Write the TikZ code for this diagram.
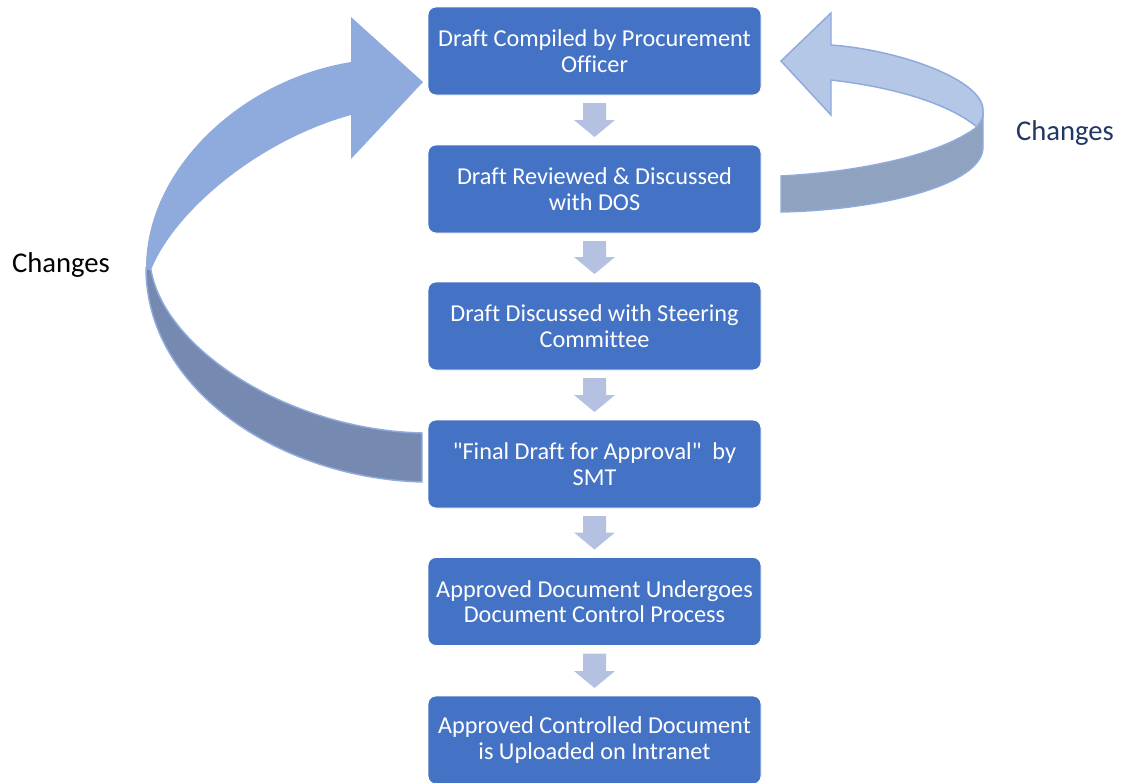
\documentclass[tikz,border=0pt]{standalone}
\usepackage{fontspec}
\setmainfont{Carlito}[Ligatures=CommonOff]
\usetikzlibrary{calc}
\definecolor{boxblue}{HTML}{4472C4}
\definecolor{smallarrow}{HTML}{B4C1E1}
\definecolor{leftfront}{HTML}{8FAADC}
\definecolor{leftback}{HTML}{7689B0}
\definecolor{rightfront}{HTML}{B4C7E7}
\definecolor{rightback}{HTML}{8FA2BF}
\definecolor{navytext}{HTML}{1F3864}
\newcommand\blockconn[2]{%
  \fill[smallarrow] ($(#1.south)+(-11.5,8)$) -- ($(#1.south)+(11.5,8)$)
    -- ($(#2.north)+(11.5,-25)$) -- ($(#2.north)+(20.5,-25)$)
    -- ($(#2.north)+(0,-8)$) -- ($(#2.north)+(-20.5,-25)$)
    -- ($(#2.north)+(-11.5,-25)$) -- cycle;}
\begin{document}
\begin{tikzpicture}[x=0.75pt,y=-0.75pt,
  stepbox/.style={draw=white, line width=0.6pt, fill=boxblue, rounded corners=6pt,
    minimum width=249.75pt, minimum height=66pt, text=white, align=center,
    font=\fontsize{18.2}{19}\selectfont, inner sep=0pt, outer sep=0pt},
  changelabel/.style={font=\fontsize{21.5}{24}\selectfont, inner sep=0pt},
  ribbon/.style={draw=leftfront, line width=1.1pt}]
\useasboundingbox (0,0) rectangle (1121,782);
\fill[white] (0,0) rectangle (1121,782);

% left circular arrow
\filldraw[ribbon, fill=leftback] (146,268) .. controls (146,390) and (280,478) .. (422,482)
  -- (422,433) .. controls (290,430) and (165,350) .. (151,270) -- cycle;
\fill[leftfront] (351,17) -- (423,82) -- (351,159) -- (351,115)
  .. controls (260,140) and (175,210) .. (151,270) -- (146,268)
  .. controls (146,170) and (240,80) .. (351,62) -- cycle;

% right circular arrow
\filldraw[ribbon, fill=rightback] (983,110) -- (983,147)
  .. controls (983,185) and (880,210) .. (781,212) -- (781,176)
  .. controls (860,172) and (940,155) .. (977,127)
  .. controls (983,118) .. (983,110) -- cycle;
\filldraw[ribbon, fill=rightfront] (831,45) .. controls (900,50) and (983,80) .. (983,110)
  .. controls (983,118) .. (977,127)
  .. controls (950,105) and (900,88) .. (831,80)
  -- (831,115) -- (781,61) -- (831,13) -- cycle;

% boxes
\node[stepbox] (b1) at (594.5,51) {Draft Compiled by Procurement\\Officer};
\node[stepbox] (b2) at (594.5,189) {Draft Reviewed \& Discussed\\with DOS};
\node[stepbox] (b3) at (594.5,326) {Draft Discussed with Steering\\Committee};
\node[stepbox] (b4) at (594.5,464) {\textquotedbl Final Draft for Approval\textquotedbl\ \ by\\SMT};
\node[stepbox] (b5) at (594.5,601.5) {Approved Document Undergoes\\Document Control Process};
\node[stepbox] (b6) at (594.5,740) {Approved Controlled Document\\is Uploaded on Intranet};

\blockconn{b1}{b2}
\blockconn{b2}{b3}
\blockconn{b3}{b4}
\blockconn{b4}{b5}
\blockconn{b5}{b6}

% labels
\node[changelabel, text=navytext] (chR) at (1065,133) {Changes};
\node[changelabel, text=black] (chL) at (61,265) {Changes};
\end{tikzpicture}
\end{document}
